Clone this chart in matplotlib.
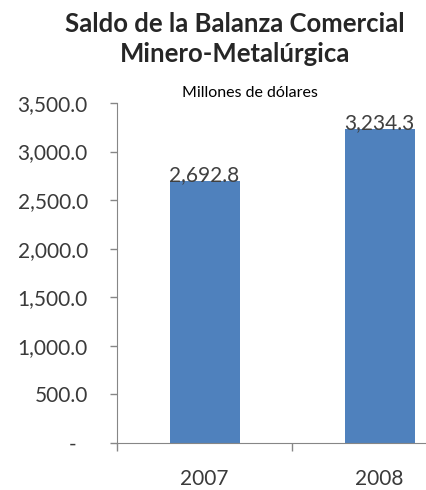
import matplotlib.pyplot as plt
from matplotlib.ticker import FixedLocator

years = ['2007', '2008']
saldo = [2692.8, 3234.3]
yticks = [0, 500, 1000, 1500, 2000, 2500, 3000, 3500]

title_1 = 'Saldo de la Balanza Comercial'
title_2 = 'Minero-Metalúrgica'
subtitle = 'Millones de dólares'

plt.rcParams['font.family'] = ['Lato', 'DejaVu Sans']

fig = plt.figure(figsize=(4.26, 4.90), dpi=100)
ax = fig.add_axes([117 / 426, 47 / 490, 350 / 426, 340 / 490])

x = list(range(len(years)))
ax.bar(x, saldo, width=0.4, color='#4F81BD', zorder=2)
for xi, v in zip(x, saldo):
    ax.text(xi, v, f'{v:,.1f}', ha='center', va='baseline', fontsize=15, color='#404040')

ax.set_xlim(-0.5, len(years) - 0.5)
ax.set_ylim(0, 3500)
ax.set_yticks(yticks)
ax.set_yticklabels(['-  ' if t == 0 else f'{t:,.1f}' for t in yticks])
ax.set_xticks(x)
ax.set_xticklabels(years)
ax.xaxis.set_minor_locator(FixedLocator([i - 0.5 for i in range(len(years) + 1)]))

ax.tick_params(axis='y', length=5, width=1, color='#868686', pad=16, labelsize=15, labelcolor='#3a3a3a')
ax.tick_params(axis='x', which='major', length=0, pad=19, labelsize=15, labelcolor='#3a3a3a')
ax.tick_params(axis='x', which='minor', length=6, width=1, color='#868686')

for s in ['top', 'right']:
    ax.spines[s].set_visible(False)
for s in ['left', 'bottom']:
    ax.spines[s].set_color('#868686')

fig.text(235 / 426, 1 - 32 / 490, title_1, ha='center', va='baseline', fontsize=18.5,
         fontweight='bold', color='#262626')
fig.text(235 / 426, 1 - 62 / 490, title_2, ha='center', va='baseline', fontsize=18.5,
         fontweight='bold', color='#262626')
fig.text(250 / 426, 1 - 97 / 490, subtitle, ha='center', va='baseline', fontsize=11.5, color='black')

fig.savefig('out.png', dpi=100)
